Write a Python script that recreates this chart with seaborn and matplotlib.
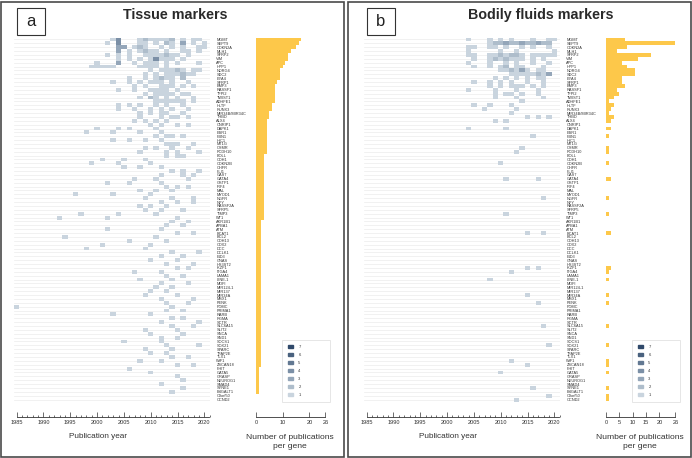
import numpy as np
import pandas as pd
import matplotlib
matplotlib.use("Agg")
import matplotlib.pyplot as plt
import matplotlib.patches as mpatches
from matplotlib.colors import ListedColormap
import seaborn as sns

# gene order (same for both panels)
genes = ["MGMT", "SEPT9", "CDKN2A", "MLH1", "SFRP2", "VIM", "APC", "HPP1", "NDRG4", "SDC2",
         "EYA4", "SFRP1", "BMP3", "RASSF1", "TFPI2", "TWIST1", "ADHFE1", "HLTF", "RUNX3",
         "MIR34B/MIR34C", "THBD", "ALX4", "CNRIP1", "DAPK1", "ESR1", "FBN1", "HIC1", "MT1G",
         "OSMR", "PCDH10", "BOLL", "CDH1", "CDKN2B", "CHFR", "FLI1", "GAS7", "GATA4", "GSTP1",
         "IRF4", "MAL", "MYOD1", "NGFR", "NPY", "RASSF2A", "SFRP5", "TIMP3", "WT1", "AKR1B1",
         "APBA1", "ATM", "BCAT1", "BCL2", "CDH13", "CDX2", "DCC", "DCLK1", "EID3", "GNAS",
         "HS3ST2", "IKZF1", "ITGA4", "LAMA1", "LINE-1", "MDFI", "MIR124-1", "MIR137", "MIR34A",
         "MSX1", "PENK", "POMC", "PRIMA1", "RARB", "RGMA", "SCTR", "SLC6A15", "SLIT2", "SNCA",
         "SND1", "SOCS1", "SOX21", "SPARC", "TFAP2E", "TLX1", "WIF1", "ZSCAN18", "FHIT", "GATA5",
         "GRASP", "NEUROG1", "SMAD4", "SYNE1", "B4GALT1", "C9orf50", "CCND2"]

years = list(range(1985, 2021))

# publications per gene and year ("year:count", count 1 if omitted)
tissue_pubs = {
    "MGMT": "2003 2004:4 2008 2009:2 2010 2011 2012 2013 2014:2 2016 2018 2019",
    "SEPT9": "2002 2004:4 2008 2009 2011 2013:2 2014 2016:3 2018 2020",
    "CDKN2A": "2004:3 2005:3 2007 2008:2 2009 2012 2014 2016 2019 2020",
    "MLH1": "2004:3 2006 2008 2009:2 2010 2011 2013 2016 2017 2019",
    "SFRP2": "2002 2004 2006 2009 2010 2011 2012 2013:2 2014 2015 2017",
    "VIM": "2004 2006 2008 2010 2011:4 2012 2013 2014 2016",
    "APC": "2000 2004:3 2007 2009 2010 2011 2013 2015 2019",
    "HPP1": "1999 2000 2001 2002 2003 2008 2009 2010 2011 2013",
    "NDRG4": "2010 2012 2013 2014 2015:2 2016 2018 2019",
    "SDC2": "2009 2011 2013 2014 2015 2016:2 2017 2018",
    "EYA4": "2006 2009 2011 2012:2 2013 2014 2016:2",
    "SFRP1": "2003 2006 2008 2010 2011 2012 2014 2017",
    "BMP3": "2007 2009 2012 2013 2014 2016 2018",
    "RASSF1": "2004 2007 2010 2011 2012 2013 2015",
    "TFPI2": "2009 2011 2012 2013 2014 2016 2017",
    "TWIST1": "2008 2010:2 2011 2013 2015 2018",
    "ADHFE1": "2011 2012 2013 2014 2015 2016 2018",
    "HLTF": "2004 2006 2008 2011 2013 2016",
    "RUNX3": "2004 2007 2010 2012 2014 2017",
    "MIR34B/MIR34C": "2008 2010 2012 2013 2016",
    "THBD": "2008 2012 2014 2015 2017",
    "ALX4": "2007 2009 2011 2013",
    "CNRIP1": "2010 2012 2015 2017",
    "DAPK1": "2000 2004 2006 2011",
    "ESR1": "1998 2003 2008 2012",
    "FBN1": "2011 2013 2014 2016",
    "HIC1": "2003 2006 2009 2012",
    "MT1G": "2013 2014 2015 2018",
    "OSMR": "2009 2011 2014 2017",
    "PCDH10": "2008 2013 2015 2019",
    "BOLL": "2013 2015 2016",
    "CDH1": "2001 2005 2009",
    "CDKN2B": "1999 2004 2010",
    "CHFR": "2005 2008 2012",
    "FLI1": "2014 2016 2019",
    "GAS7": "2012 2016 2018",
    "GATA4": "2007 2011 2017",
    "GSTP1": "2002 2006 2012",
    "IRF4": "2013 2015 2017",
    "MAL": "2008 2011 2014",
    "MYOD1": "1996 2003 2010",
    "NGFR": "2009 2014 2018",
    "NPY": "2012 2015 2018",
    "RASSF2A": "2008 2010 2013",
    "SFRP5": "2009 2012 2016",
    "TIMP3": "1997 2004 2011",
    "WT1": "1993 2002 2015",
    "AKR1B1": "2014 2017", "APBA1": "2013 2016", "ATM": "2002 2012", "BCAT1": "2015 2018",
    "BCL2": "1994 2011", "CDH13": "2006 2013", "CDX2": "2001 2010", "DCC": "1998 2009",
    "DCLK1": "2014 2019", "EID3": "2012 2016", "GNAS": "2010 2015", "HS3ST2": "2013 2018",
    "IKZF1": "2015 2017", "ITGA4": "2007 2012", "LAMA1": "2013 2016", "LINE-1": "2008 2014",
    "MDFI": "2012 2017", "MIR124-1": "2011 2014", "MIR137": "2010 2013", "MIR34A": "2009 2015",
    "MSX1": "2012 2018", "PENK": "2013 2017", "POMC": "1985 2014", "PRIMA1": "2013 2016",
    "RARB": "2003 2010", "RGMA": "2014 2016", "SCTR": "2012 2019", "SLC6A15": "2014 2018",
    "SLIT2": "2009 2015", "SNCA": "2010 2016", "SND1": "2012 2015", "SOCS1": "2005 2012",
    "SOX21": "2013 2019", "SPARC": "2009 2014", "TFAP2E": "2010 2013", "TLX1": "2014 2017",
    "WIF1": "2008 2012", "ZSCAN18": "2015 2018",
    "FHIT": "2006", "GATA5": "2010", "GRASP": "2015", "NEUROG1": "2016", "SMAD4": "2012",
    "SYNE1": "2016", "B4GALT1": "2014",
}

fluid_pubs = {
    "MGMT": "2004 2008 2010 2012 2016 2019 2020",
    "SEPT9": "2008 2009:2 2010:2 2011:3 2012:2 2013:2 2014:3 2015:2 2016:2 2017:3 2018:2 2019:2",
    "CDKN2A": "2004 2005 2008 2009 2011 2014 2016 2019",
    "MLH1": "2004 2010 2013 2020",
    "SFRP2": "2004 2005 2008 2009 2010:2 2011 2012:2 2013:2 2014 2016 2017 2018 2019 2020",
    "VIM": "2005 2008 2009:2 2010 2011:2 2012 2013 2014 2016 2018",
    "APC": "2004 2008 2011 2013 2016 2019",
    "HPP1": "2005 2008 2010 2011:2 2013 2014 2018",
    "NDRG4": "2010 2011 2012:2 2013 2014:3 2015 2017 2018",
    "SDC2": "2012 2013 2014 2015 2016 2017:2 2018 2019:3",
    "EYA4": "2009 2011 2013 2015 2017 2018",
    "SFRP1": "2005 2008 2010 2012 2015 2018",
    "BMP3": "2008 2010 2012 2013 2014 2016 2018",
    "RASSF1": "2004 2009 2013 2017",
    "TFPI2": "2009 2011 2012 2014 2017",
    "TWIST1": "2009 2013 2018",
    "ADHFE1": "2014",
    "HLTF": "2005 2008 2012",
    "RUNX3": "2007 2013",
    "MIR34B/MIR34C": "2012",
    "THBD": "2015 2017 2019",
    "ALX4": "2009 2011",
    "DAPK1": "2004 2011",
    "FBN1": "2016",
    "OSMR": "2014",
    "PCDH10": "2013",
    "CDKN2B": "2010",
    "GATA4": "2011 2017",
    "NGFR": "2018",
    "TIMP3": "2011",
    "BCAT1": "2015 2018",
    "IKZF1": "2015 2017",
    "ITGA4": "2012",
    "LINE-1": "2008",
    "MIR34A": "2015",
    "PENK": "2017",
    "SLC6A15": "2018",
    "SOX21": "2019",
    "WIF1": "2012",
    "ZSCAN18": "2015",
    "GATA5": "2010",
    "SYNE1": "2016",
    "C9orf50": "2019",
    "CCND2": "2013",
}

count_colors = ["#c9d4de", "#aebdcb", "#94a6b9", "#7b8fa6", "#627892", "#49617e", "#30496a"]
bar_color = "#FDC84A"
ink = "#333333"

W, H = 692, 458
plt.rcParams["font.family"] = ["Liberation Sans", "DejaVu Sans"]

fig = plt.figure(figsize=(W / 100, H / 100), dpi=100)


def px_axes(x0, y0, x1, y1):
    return fig.add_axes([x0 / W, 1 - y1 / H, (x1 - x0) / W, (y1 - y0) / H])


def to_table(pubs):
    tab = pd.DataFrame(0, index=genes, columns=years)
    for g, s in pubs.items():
        for tok in s.split():
            y, _, n = tok.partition(":")
            tab.loc[g, int(y)] += int(n or 1)
    return tab


def style_axis(ax):
    for side in ["top", "left", "right"]:
        ax.spines[side].set_visible(False)
    sp = ax.spines["bottom"]
    sp.set_visible(True)
    sp.set_position(("outward", 11))
    sp.set_linewidth(0.6)
    sp.set_color(ink)
    ax.tick_params(axis="x", which="both", direction="in", color=ink, width=0.5,
                   labelsize=4.1, labelcolor=ink, pad=2.5)
    ax.tick_params(axis="x", which="major", length=3.5)
    ax.tick_params(axis="x", which="minor", length=1.8)


def draw_panel(dx, frame_x, pubs, letter, title, title_x, bar_ticks):
    tab = to_table(pubs)
    n = len(genes)
    top, bottom = 37.5, 401.5

    # heatmap of publications per year
    ax = px_axes(14 + dx, top, 14 + 36 * 5.45 + dx, bottom)
    for i in range(n):
        ax.axhline(i + 0.5, color="#ececec", lw=0.5, zorder=0)
    sns.heatmap(tab, mask=tab == 0, cmap=ListedColormap(count_colors), vmin=0.5, vmax=7.5,
                cbar=False, ax=ax, xticklabels=False, yticklabels=genes)
    ax.set_facecolor("none")
    ax.yaxis.tick_right()
    ax.tick_params(axis="y", length=0, pad=4.5, labelsize=2.8, labelcolor=ink)
    for lab in ax.get_yticklabels():
        lab.set_rotation(0)
    ax.set_xticks([j + 0.5 for j, y in enumerate(years) if y % 5 == 0])
    ax.set_xticklabels([str(y) for y in years if y % 5 == 0])
    ax.set_xticks([j + 0.5 for j in range(len(years) + 1)], minor=True)
    style_axis(ax)
    ax.spines["bottom"].set_bounds(0.5, len(years) + 0.3)
    ax.set_xlabel("")
    ax.set_ylabel("")
    ax.set_xlim(0, len(years) + 0.6)

    # bars: number of publications per gene
    bx = px_axes(256 + dx, top, 256 + 26 * 2.67 + dx, bottom)
    totals = pd.DataFrame({"gene": genes, "n": tab.sum(axis=1).values})
    sns.barplot(data=totals, x="n", y="gene", orient="h", color=bar_color, saturation=1,
                width=1.0, linewidth=0, ax=bx)
    bx.set_ylim(n - 0.5, -0.5)
    bx.set_xlim(0, 26)
    bx.set_yticks([])
    bx.set_xlabel("")
    bx.set_ylabel("")
    bx.set_xticks(bar_ticks)
    style_axis(bx)
    bx.spines["bottom"].set_bounds(0, 26)
    for p in bx.patches:
        p.set_clip_on(False)

    # legend of counts
    fig.patches.append(mpatches.Rectangle(((282 + dx) / W, 1 - 402 / H), 48 / W, 62 / H,
                                          transform=fig.transFigure, fill=False,
                                          ec="#e2e2e2", lw=0.6))
    handles = [mpatches.Patch(color=count_colors[k - 1], label=str(k)) for k in range(7, 0, -1)]
    fig.legend(handles=handles, loc="upper left",
               bbox_to_anchor=((285 + dx) / W, 1 - 342 / H), frameon=False,
               fontsize=3, handlelength=1.3, handleheight=0.8, labelspacing=0.95,
               handletextpad=1.2, borderpad=0.2, labelcolor=ink)

    # texts
    fig.text((98 + dx) / W, 1 - 436 / H, "Publication year", ha="center", va="center",
             fontsize=5.9, color=ink)
    fig.text((290 + dx) / W, 1 - 442 / H, "Number of publications\nper gene", ha="center",
             va="center", fontsize=6.1, color=ink, linespacing=1.3)
    fig.text(title_x / W, 1 - 15 / H, title, ha="center", va="center", fontsize=10.3,
             weight="bold", color="#2a2a2a")
    fig.patches.append(mpatches.Rectangle(((17 + dx) / W, 1 - 35 / H), 28 / W, 27 / H,
                                          transform=fig.transFigure, fill=False,
                                          ec="#333333", lw=0.8))
    fig.text((31 + dx) / W, 1 - 21.5 / H, letter, ha="center", va="center", fontsize=12,
             color="#222222")
    # panel frame
    fig.patches.append(mpatches.Rectangle((frame_x / W, 1 / H), 343 / W, 455 / H,
                                          transform=fig.transFigure, fill=False,
                                          ec="#4a4a4a", lw=1.2))


draw_panel(0, 1, tissue_pubs, "a", "Tissue markers", 175, [0, 10, 20, 26])
draw_panel(350, 348, fluid_pubs, "b", "Bodily fluids markers", 541, [0, 5, 10, 15, 20, 26])

fig.savefig("out.png", dpi=100)
